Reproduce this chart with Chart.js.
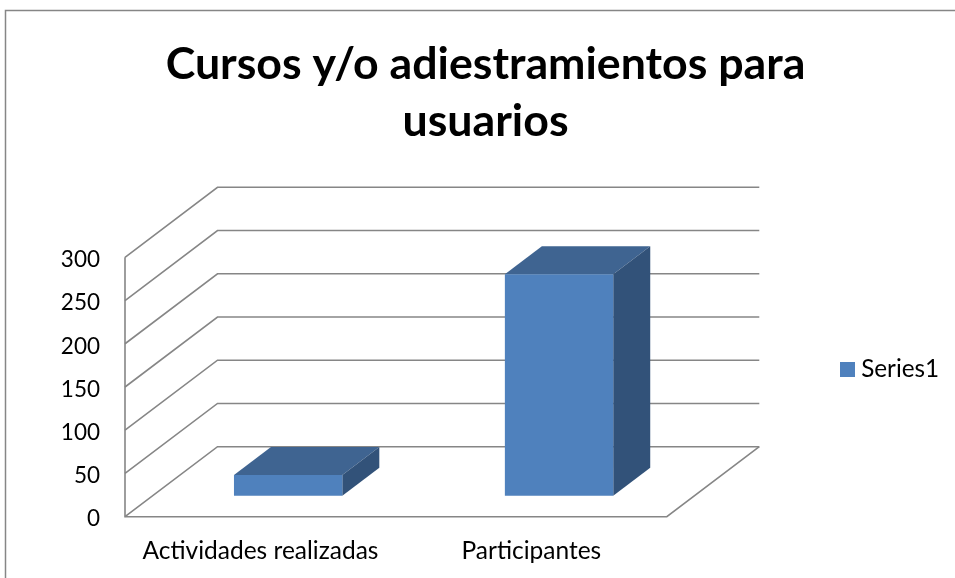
<!DOCTYPE html>
<html lang="es">
<head>
  <meta charset="UTF-8">
  <title>Cursos y/o adiestramientos para usuarios</title>
  <script src="https://cdn.jsdelivr.net/npm/chart.js"></script>
  <style>
    html, body { margin: 0; padding: 0; background: #fff; }
    canvas { display: block; }
  </style>
</head>
<body>
  <canvas id="myChart" width="955" height="578"></canvas>
  <script>
    const titleLines = ['Cursos y/o adiestramientos para', 'usuarios'];
    const categories = ['Actividades realizadas', 'Participantes'];
    const seriesName = 'Series1';
    const seriesValues = [24, 256];
    const yTicks = [0, 50, 100, 150, 200, 250, 300];

    const FRONT = '#4F81BD', TOP = '#3F6491', SIDE = '#325279', LINE = '#868686';
    // fake 3D: how far the back wall and the bars sit from the front plane
    const wall = { dx: 92.5, dy: 70 };
    const barOffset = { dx: 27.7, dy: 21 };
    const barDepth = { dx: 37, dy: 28 };

    function stroke(ctx, pts) {
      ctx.beginPath();
      pts.forEach((p, i) => i ? ctx.lineTo(p[0], p[1]) : ctx.moveTo(p[0], p[1]));
      ctx.stroke();
    }
    function fill(ctx, color, pts) {
      ctx.fillStyle = color;
      ctx.beginPath();
      pts.forEach((p, i) => i ? ctx.lineTo(p[0], p[1]) : ctx.moveTo(p[0], p[1]));
      ctx.closePath();
      ctx.fill();
    }

    const fake3d = {
      id: 'fake3d',
      afterLayout(chart) {
        // legend and title sit away from the plot, move them where they belong
        const l = chart.legend;
        const sx = 836 - l.left, sy = 369.5 - (l.top + l.bottom) / 2;
        l.left += sx; l.right += sx; l.top += sy; l.bottom += sy;
        const t = chart.titleBlock;
        const tx = 485.5 - (t.left + t.right) / 2;
        t.left += tx; t.right += tx;
      },
      beforeDraw(chart) {
        const ctx = chart.ctx;
        ctx.save();
        ctx.strokeStyle = LINE;
        ctx.lineWidth = 1.5;
        stroke(ctx, [[5.5, chart.height], [5.5, 10.5], [chart.width, 10.5]]);
        ctx.restore();
      },
      beforeDatasetsDraw(chart) {
        const ctx = chart.ctx, y = chart.scales.y, a = chart.chartArea;
        ctx.save();
        ctx.strokeStyle = LINE;
        ctx.lineWidth = 1.6;
        yTicks.forEach(t => {
          const py = y.getPixelForValue(t);
          stroke(ctx, [[a.left, py], [a.left + wall.dx, py - wall.dy], [a.right + wall.dx, py - wall.dy]]);
        });
        stroke(ctx, [[a.left, a.top], [a.left, a.bottom], [a.right, a.bottom], [a.right + wall.dx, a.bottom - wall.dy]]);

        // bar tops and sides, then the library draws the front faces on the shifted plane
        ctx.translate(barOffset.dx, -barOffset.dy);
        chart.getDatasetMeta(0).data.forEach(bar => {
          const l = bar.x - bar.width / 2, r = bar.x + bar.width / 2;
          const d = barDepth;
          fill(ctx, TOP, [[l, bar.y], [l + d.dx, bar.y - d.dy], [r + d.dx, bar.y - d.dy], [r, bar.y]]);
          fill(ctx, SIDE, [[r, bar.y], [r + d.dx, bar.y - d.dy], [r + d.dx, bar.base - d.dy], [r, bar.base]]);
        });
      },
      afterDatasetsDraw(chart) {
        chart.ctx.restore();
      }
    };

    const family = 'Lato, sans-serif';

    new Chart(document.getElementById('myChart'), {
      type: 'bar',
      plugins: [fake3d],
      data: {
        labels: categories,
        datasets: [{
          label: seriesName,
          data: seriesValues,
          backgroundColor: FRONT,
          barPercentage: 0.4,
          categoryPercentage: 1,
          clip: false
        }]
      },
      options: {
        responsive: false,
        animation: false,
        layout: { padding: { right: 175 } },
        plugins: {
          tooltip: { enabled: false },
          title: {
            display: true,
            text: titleLines,
            color: '#000',
            font: { family: family, size: 44.7, weight: 'bold', lineHeight: 1.275 },
            padding: { top: 36.5, bottom: 106.8 }
          },
          legend: {
            position: 'right',
            labels: {
              color: '#000',
              font: { family: family, size: 24.3 },
              // small box with a thick border keeps the text close to the swatch
              boxWidth: 3,
              boxHeight: 3,
              padding: 10,
              generateLabels(chart) {
                return Chart.defaults.plugins.legend.labels.generateLabels(chart).map(item => {
                  item.lineWidth = 12;
                  item.strokeStyle = FRONT;
                  return item;
                });
              }
            }
          }
        },
        scales: {
          x: {
            grid: { display: false },
            border: { display: false },
            afterFit(s) { s.height = 61.3; },
            ticks: { color: '#000', font: { family: family, size: 24.5 }, padding: 12, maxRotation: 0, autoSkip: false }
          },
          y: {
            min: yTicks[0],
            max: yTicks[yTicks.length - 1],
            grid: { display: false },
            border: { display: false },
            afterFit(s) { s.width = 125; },
            ticks: { color: '#000', font: { family: family, size: 22.5 }, padding: 17, stepSize: 50, labelOffset: 2.5 }
          }
        }
      }
    });
  </script>
</body>
</html>
